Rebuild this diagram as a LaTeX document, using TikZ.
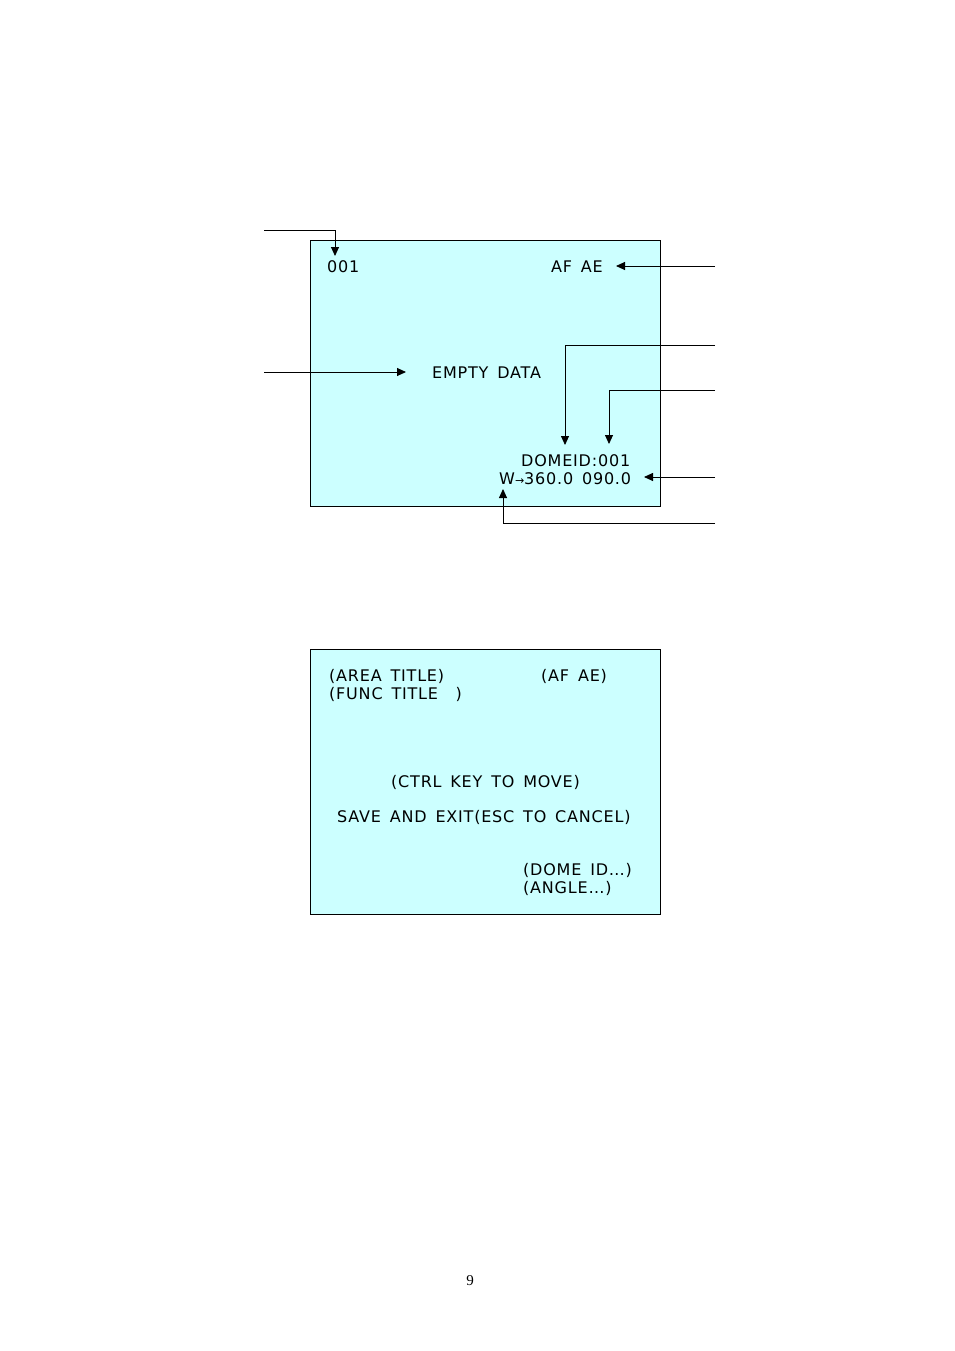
\documentclass[tikz,border=0pt]{standalone}
\usepackage{fontspec}
\usetikzlibrary{arrows.meta}
\newfontfamily\osd[LetterSpace=5,WordSpace=1.5]{DejaVu Sans}
\newfontfamily\osdarrow{DejaVu Sans}
\newfontfamily\pagefont{Liberation Serif}
\definecolor{screen}{HTML}{CCFFFF}
\tikzset{
  x=1pt,y=-1pt,
  screenbox/.style={draw=black,line width=0.9pt,fill=screen},
  osdtext/.style={anchor=base west,inner sep=0pt,font=\osd\fontsize{16}{18}\selectfont},
  pointer/.style={draw=black,line width=0.9pt,-{Triangle[length=9pt,width=8pt]}},
}
\begin{document}
\begin{tikzpicture}
\useasboundingbox (0,0) rectangle (954,1351);
% screen 1
\draw[screenbox] (310,240) rectangle (660,506);
\node[osdtext] (num) at (327,272) {001};
\node[osdtext] (afae) at (551,272) {AF AE};
\node[osdtext] (empty) at (432,378) {EMPTY DATA};
\node[osdtext] (domeid) at (521,466) {DOMEID:001};
\node[osdtext] (angle) at (499,484) {W{\osdarrow\fontsize{11}{11}\selectfont →}360.0 090.0};
% connector end points
\coordinate (a1s) at (264,230); \coordinate (a1c) at (335,230); \coordinate (a1e) at (335,256);
\coordinate (a2s) at (715,266); \coordinate (a2e) at (616,266);
\coordinate (a3s) at (264,372); \coordinate (a3e) at (406,372);
\coordinate (a4s) at (715,345); \coordinate (a4c) at (565,345); \coordinate (a4e) at (565,445);
\coordinate (a5s) at (715,390); \coordinate (a5c) at (609,390); \coordinate (a5e) at (609,444);
\coordinate (a6s) at (715,477); \coordinate (a6e) at (644,477);
\coordinate (a7s) at (715,523); \coordinate (a7c) at (503,523); \coordinate (a7e) at (503,489);
\draw[pointer] (a1s) -- (a1c) -- (a1e);
\draw[pointer] (a2s) -- (a2e);
\draw[pointer] (a3s) -- (a3e);
\draw[pointer] (a4s) -- (a4c) -- (a4e);
\draw[pointer] (a5s) -- (a5c) -- (a5e);
\draw[pointer] (a6s) -- (a6e);
\draw[pointer] (a7s) -- (a7c) -- (a7e);
% screen 2
\draw[screenbox] (310,649) rectangle (660,914);
\node[osdtext] (area) at (329,681) {(AREA TITLE)};
\node[osdtext] (afae2) at (541,681) {(AF AE)};
\node[osdtext] (func) at (329,699) {(FUNC TITLE\ \ )};
\node[osdtext] (ctrl) at (391,787) {(CTRL KEY TO MOVE)};
\node[osdtext] (save) at (337,822) {SAVE AND EXIT(ESC TO CANCEL)};
\node[osdtext] (dome2) at (523,875) {(DOME ID…)};
\node[osdtext] (angle2) at (523,893) {(ANGLE…)};
% page number
\node[inner sep=0pt,font=\pagefont\fontsize{15}{17}\selectfont] (page) at (470,1281) {9};
\end{tikzpicture}
\end{document}
